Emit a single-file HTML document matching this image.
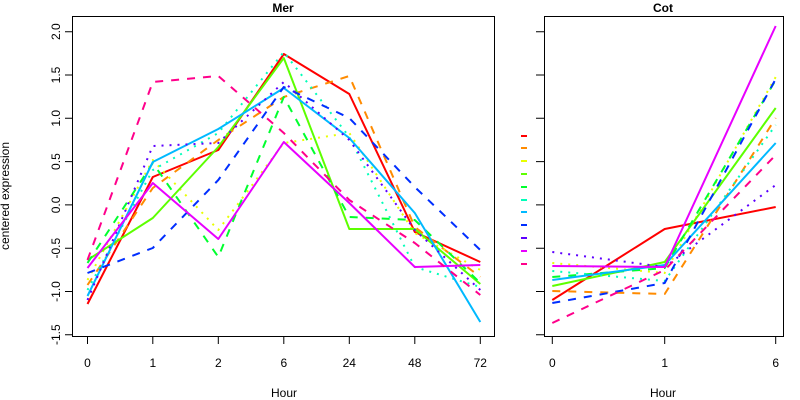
<!DOCTYPE html>
<html><head><style>body{margin:0;background:#fff}svg{display:block}text{font-family:"Liberation Sans",sans-serif;font-size:12px;fill:#000}</style></head>
<body>
<svg width="800" height="400" xmlns="http://www.w3.org/2000/svg">
<rect width="800" height="400" fill="#fff"/>
<g fill="none" stroke="#000" stroke-width="1">
<rect x="72.5" y="16.5" width="422" height="320"/>
<rect x="544.5" y="16.5" width="239" height="320"/>
<path d="M87.5 336v8M152.8 336v8M218.3 336v8M283.8 336v8M349.3 336v8M414.8 336v8M480.3 336v8"/>
<path d="M552.3 336v8M664.7 336v8M775.7 336v8"/>
<path d="M65 31.7h7M65 75h7M65 118.3h7M65 161.6h7M65 204.9h7M65 248.2h7M65 291.5h7M65 334.7h7"/>
<path d="M536 31.7h8M536 75h8M536 118.3h8M536 161.6h8M536 204.9h8M536 248.2h8M536 291.5h8M536 334.7h8"/>
</g>
<text x="283" y="12" text-anchor="middle" font-weight="bold">Mer</text>
<text x="663" y="12" text-anchor="middle" font-weight="bold">Cot</text>
<g text-anchor="middle">
<text x="87.5" y="367">0</text><text x="152.8" y="367">1</text><text x="218.3" y="367">2</text><text x="283.8" y="367">6</text><text x="349.3" y="367">24</text><text x="414.8" y="367">48</text><text x="480.3" y="367">72</text>
<text x="552.3" y="367">0</text><text x="664.7" y="367">1</text><text x="775.7" y="367">6</text>
<text x="284" y="397">Hour</text><text x="663" y="397">Hour</text>
</g>
<g text-anchor="middle">
<text transform="translate(60,31.7) rotate(-90)">2.0</text>
<text transform="translate(60,75) rotate(-90)">1.5</text>
<text transform="translate(60,118.3) rotate(-90)">1.0</text>
<text transform="translate(60,161.6) rotate(-90)">0.5</text>
<text transform="translate(60,204.9) rotate(-90)">0.0</text>
<text transform="translate(60,248.2) rotate(-90)">-0.5</text>
<text transform="translate(60,291.5) rotate(-90)">-1.0</text>
<text transform="translate(60,334.7) rotate(-90)">-1.5</text>
<text transform="translate(9,196) rotate(-90)" font-size="11">centered expression</text>
</g>
<g fill="none" stroke-width="2" stroke-linejoin="round">
<polyline stroke="#FF0000" points="87.5,304 152.8,177 218.3,150 283.8,54 349.3,94 414.8,232 480.3,262"/>
<polyline stroke="#FF8B00" stroke-dasharray="8,8" points="87.5,285 152.8,188 218.3,140 283.8,97 349.3,76 414.8,227 480.3,277"/>
<polyline stroke="#E8FF00" stroke-dasharray="2,6" points="87.5,280 152.8,160 218.3,230 283.8,143 349.3,133 414.8,233 480.3,270"/>
<polyline stroke="#5DFF00" points="87.5,260 152.8,218 218.3,147 283.8,58 349.3,229 414.8,229 480.3,284"/>
<polyline stroke="#00FF2E" stroke-dasharray="8,8" points="87.5,263 152.8,163 218.3,257 283.8,97 349.3,217 414.8,220 480.3,283"/>
<polyline stroke="#00FFB9" stroke-dasharray="2,6" points="87.5,290 152.8,170 218.3,133 283.8,52 349.3,137 414.8,267 480.3,287"/>
<polyline stroke="#00B9FF" points="87.5,296 152.8,162 218.3,129 283.8,88 349.3,138 414.8,213 480.3,322"/>
<polyline stroke="#002EFF" stroke-dasharray="8,8" points="87.5,273 152.8,248 218.3,180 283.8,87 349.3,118 414.8,187 480.3,250"/>
<polyline stroke="#5D00FF" stroke-dasharray="2,6" points="87.5,300 152.8,146 218.3,143 283.8,82 349.3,140 414.8,230 480.3,290"/>
<polyline stroke="#E800FF" points="87.5,268 152.8,183 218.3,239 283.8,142 349.3,203 414.8,267 480.3,265"/>
<polyline stroke="#FF008B" stroke-dasharray="8,8" points="87.5,260 152.8,82 218.3,76 283.8,133 349.3,200 414.8,243 480.3,295"/>

<polyline stroke="#FF0000" points="552.3,300 664.7,229 775.7,207"/>
<polyline stroke="#FF8B00" stroke-dasharray="8,8" points="552.3,291 664.7,294 775.7,118"/>
<polyline stroke="#E8FF00" stroke-dasharray="2,6" points="552.3,263 664.7,273 775.7,77"/>
<polyline stroke="#5DFF00" points="552.3,286 664.7,262 775.7,108"/>
<polyline stroke="#00FF2E" stroke-dasharray="8,8" points="552.3,277 664.7,268 775.7,80"/>
<polyline stroke="#00FFB9" stroke-dasharray="2,6" points="552.3,271 664.7,281 775.7,125"/>
<polyline stroke="#00B9FF" points="552.3,280 664.7,265 775.7,143"/>
<polyline stroke="#002EFF" stroke-dasharray="8,8" points="552.3,303 664.7,283 775.7,79"/>
<polyline stroke="#5D00FF" stroke-dasharray="2,6" points="552.3,252 664.7,267 775.7,185"/>
<polyline stroke="#E800FF" points="552.3,266 664.7,267 775.7,26"/>
<polyline stroke="#FF008B" stroke-dasharray="8,8" points="552.3,323 664.7,270 775.7,155"/>
</g>
<g stroke-width="2">
<path stroke="#FF0000" d="M521 136h6"/><path stroke="#FF8B00" d="M521 148h6"/><path stroke="#E8FF00" d="M521 161h6"/>
<path stroke="#5DFF00" d="M521 174h6"/><path stroke="#00FF2E" d="M521 187h6"/><path stroke="#00FFB9" d="M521 200h6"/>
<path stroke="#00B9FF" d="M521 212h6"/><path stroke="#002EFF" d="M521 225h6"/><path stroke="#5D00FF" d="M521 238h6"/>
<path stroke="#E800FF" d="M521 251h6"/><path stroke="#FF008B" d="M521 264h6"/>
</g>
</svg>
</body></html>
